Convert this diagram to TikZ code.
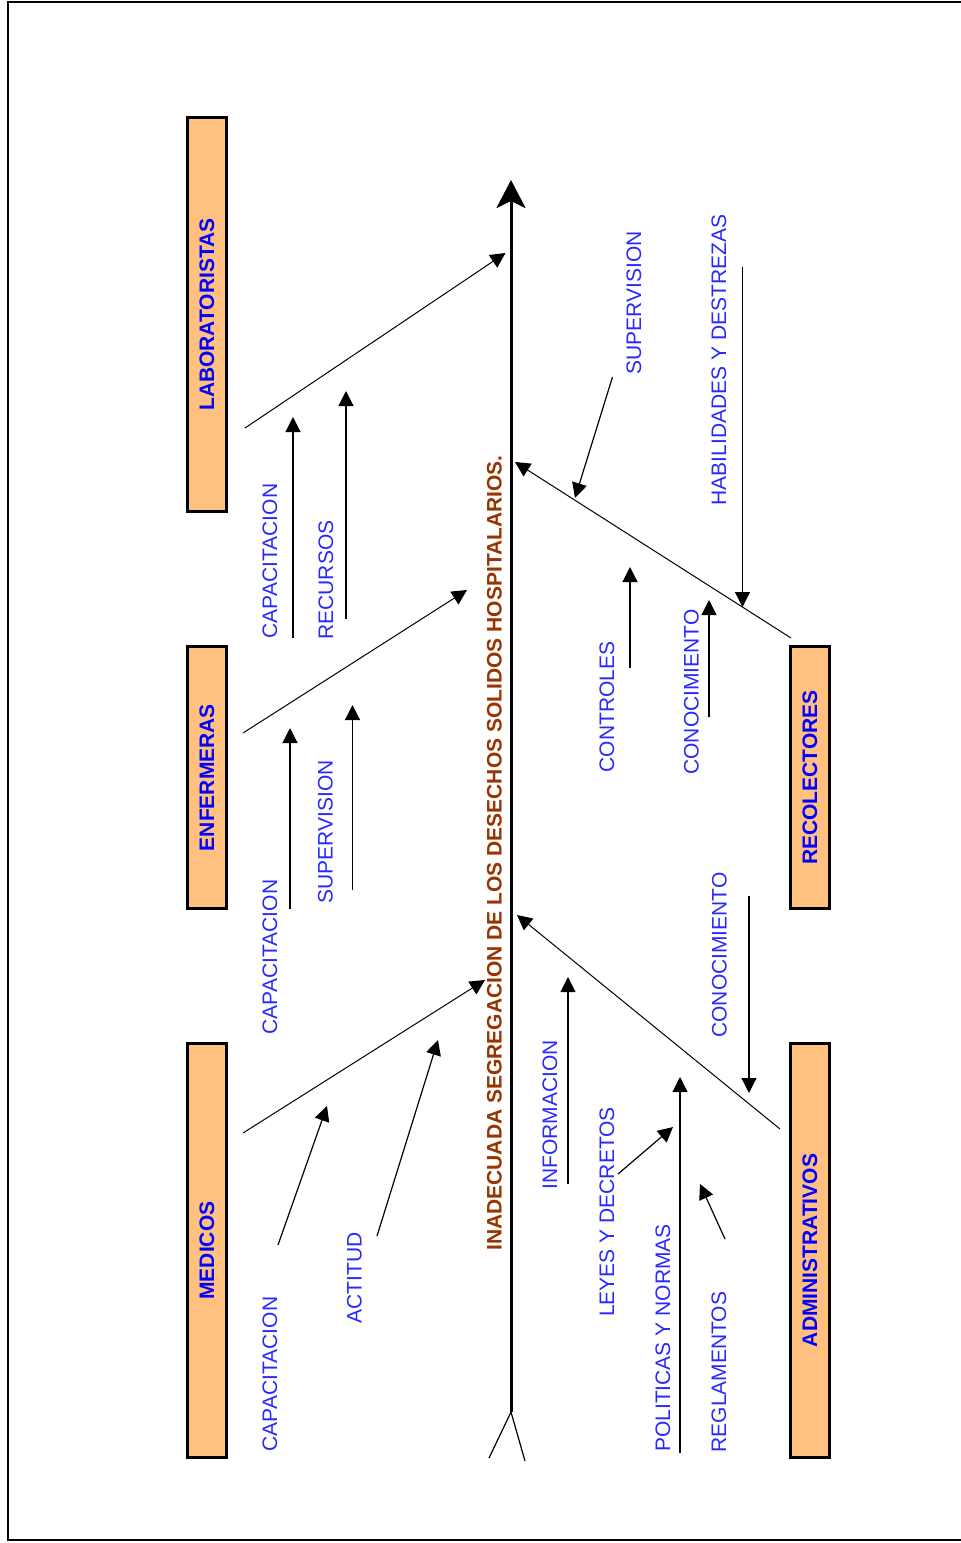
\documentclass[tikz,border=0pt]{standalone}
\usepackage{fontspec}
\setmainfont{Liberation Sans}
\usetikzlibrary{arrows.meta}
\definecolor{cajafondo}{RGB}{255,192,128}
\definecolor{azul}{RGB}{40,40,255}
\definecolor{marron}{RGB}{153,51,0}
\begin{document}
\begin{tikzpicture}[x=0.5pt,y=-0.5pt,
    >={Triangle[length=7.5pt,width=7.5pt]},
    grupo/.style={draw,line width=1.5pt,fill=cajafondo,rotate=90,minimum height=19.5pt,
      inner sep=0pt,text=blue,font=\fontsize{10.5}{12}\selectfont\bfseries},
    causa/.style={rotate=90,inner sep=0pt,text=azul,font=\fontsize{10.5}{12}\selectfont},
    rama/.style={->,line width=0.5pt},
    sub/.style={->,line width=0.6pt}]
  \useasboundingbox (0,0) rectangle (960,1543);
  \draw[line width=1pt] (961,2) -- (8,2) -- (8,1540) -- (961,1540);

  % espina central
  \coordinate (COLA) at (511,1412);
  \coordinate (CABEZA) at (511,180);
  \coordinate (CL) at (489,1458);
  \coordinate (CR) at (525,1461);
  \draw[line width=1.5pt,-{Stealth[length=14pt,width=14.5pt,inset=3.5pt]}] (COLA) -- (CABEZA);
  \draw[line width=0.6pt] (CL) -- (COLA) -- (CR);
  \node[rotate=90,inner sep=0pt,text=marron,font=\fontsize{10.5}{12}\selectfont\bfseries] (EFECTO) at (494.5,853)
    {INADECUADA SEGREGACION DE LOS DESECHOS SOLIDOS HOSPITALARIOS.};

  % grupos
  \node[grupo,minimum width=197pt] (LAB) at (207,314.5) {LABORATORISTAS};
  \node[grupo,minimum width=131pt] (ENF) at (207,777.5) {ENFERMERAS};
  \node[grupo,minimum width=207pt] (MED) at (207,1250.5) {MEDICOS};
  \node[grupo,minimum width=131pt] (REC) at (810,777.5) {RECOLECTORES};
  \node[grupo,minimum width=207pt] (ADM) at (810,1250.5) {ADMINISTRATIVOS};

  % ramas
  \coordinate (L0) at (245,428);  \coordinate (L1) at (505.5,253);
  \coordinate (E0) at (243,733);  \coordinate (E1) at (467,590);
  \coordinate (M0) at (243,1133); \coordinate (M1) at (485,980);
  \coordinate (R0) at (791,638);  \coordinate (R1) at (515,462);
  \coordinate (A0) at (780,1129); \coordinate (A1) at (517,915);
  \draw[rama] (L0) -- (L1);
  \draw[rama] (E0) -- (E1);
  \draw[rama] (M0) -- (M1);
  \draw[rama] (R0) -- (R1);
  \draw[rama] (A0) -- (A1);

  % laboratoristas
  \node[causa] (LCAP) at (270,561) {CAPACITACION};
  \node[causa] (LREC) at (326,580) {RECURSOS};
  \coordinate (la0) at (293,638);   \coordinate (la1) at (293,417);
  \coordinate (lb0) at (346,619);   \coordinate (lb1) at (346,391);
  \draw[sub] (la0) -- (la1);
  \draw[sub] (lb0) -- (lb1);

  % enfermeras
  \node[causa] (ECAP) at (270,957) {CAPACITACION};
  \node[causa] (ESUP) at (325.5,832) {SUPERVISION};
  \coordinate (ea0) at (290,909);   \coordinate (ea1) at (290,728);
  \coordinate (eb0) at (352.5,890); \coordinate (eb1) at (352.5,705);
  \draw[sub] (ea0) -- (ea1);
  \draw[sub] (eb0) -- (eb1);

  % medicos
  \node[causa] (MCAP) at (270,1374) {CAPACITACION};
  \node[causa] (MACT) at (354.5,1278) {ACTITUD};
  \coordinate (ma0) at (278,1245);  \coordinate (ma1) at (327,1106);
  \coordinate (mb0) at (377,1236);  \coordinate (mb1) at (438,1040);
  \draw[sub] (ma0) -- (ma1);
  \draw[sub] (mb0) -- (mb1);

  % recolectores
  \node[causa] (RSUP) at (634,303) {SUPERVISION};
  \node[causa] (RHAB) at (719,360) {HABILIDADES Y DESTREZAS};
  \node[causa] (RCON) at (607,707) {CONTROLES};
  \node[causa] (RCNO) at (691.5,692) {CONOCIMIENTO};
  \coordinate (ra0) at (612.5,377); \coordinate (ra1) at (575,498);
  \coordinate (rb0) at (742.5,267); \coordinate (rb1) at (742.5,607);
  \coordinate (rc0) at (630,668);   \coordinate (rc1) at (630,567);
  \coordinate (rd0) at (709,717);   \coordinate (rd1) at (709,600);
  \draw[sub] (ra0) -- (ra1);
  \draw[sub] (rb0) -- (rb1);
  \draw[sub] (rc0) -- (rc1);
  \draw[sub] (rd0) -- (rd1);

  % administrativos
  \node[causa] (ACNO) at (719.5,955) {CONOCIMIENTO};
  \node[causa] (AINF) at (550,1115) {INFORMACION};
  \node[causa] (ALEY) at (607,1212) {LEYES Y DECRETOS};
  \node[causa] (APOL) at (663,1338) {POLITICAS Y NORMAS};
  \node[causa] (AREG) at (719,1372) {REGLAMENTOS};
  \coordinate (aa0) at (749,896);   \coordinate (aa1) at (749,1093);
  \coordinate (ab0) at (568,1184);  \coordinate (ab1) at (568,977);
  \coordinate (ac0) at (618,1174);  \coordinate (ac1) at (673,1127);
  \coordinate (ad0) at (680,1453);  \coordinate (ad1) at (680,1077);
  \coordinate (ae0) at (725,1239);  \coordinate (ae1) at (700,1184);
  \draw[sub] (aa0) -- (aa1);
  \draw[sub] (ab0) -- (ab1);
  \draw[sub] (ac0) -- (ac1);
  \draw[sub] (ad0) -- (ad1);
  \draw[sub] (ae0) -- (ae1);
\end{tikzpicture}
\end{document}
